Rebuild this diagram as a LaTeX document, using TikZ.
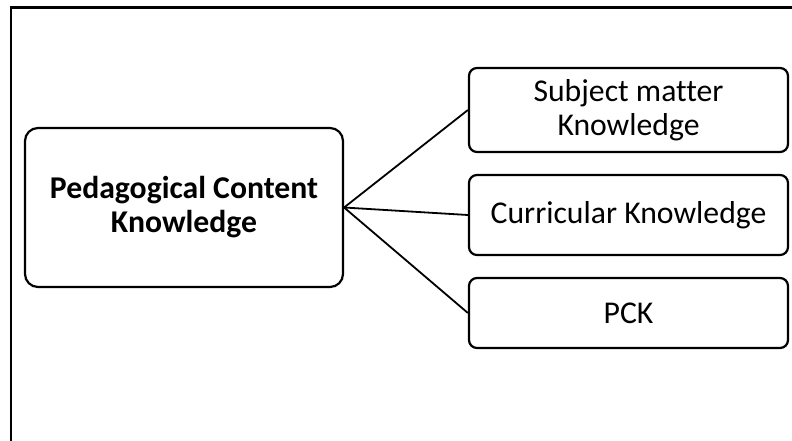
\documentclass[tikz,border=0pt]{standalone}
\usepackage{fontspec}
\setmainfont{Carlito}[Ligatures=CommonOff]
\begin{document}
\begin{tikzpicture}[x=1pt,y=-1pt,
  mainbox/.style={draw=black, line width=2.2pt, rounded corners=13pt, minimum width=318pt, minimum height=159pt, inner sep=0pt, align=center, font=\fontsize{31.7}{34}\selectfont\bfseries},
  subbox/.style={draw=black, line width=2.2pt, rounded corners=8pt, minimum width=319pt, inner sep=0pt, align=center, font=\fontsize{31.7}{34}\selectfont},
  link/.style={draw=black, line width=1.8pt}]
\useasboundingbox (0,0) rectangle (792,441);
\draw[line width=2.2pt] (11,441) -- (11,7.5) -- (792,7.5);
\node[mainbox] (pck) at (184,207.5) {Pedagogical Content\\Knowledge};
\node[subbox, minimum height=84pt] (smk) at (628.5,110) {Subject matter\\Knowledge};
\node[subbox, minimum height=80pt] (ck) at (628.5,215) {Curricular Knowledge};
\node[subbox, minimum height=70pt] (p) at (628.5,313) {PCK};
\draw[link] (pck.east) -- (smk.west);
\draw[link] (pck.east) -- (ck.west);
\draw[link] (pck.east) -- (p.west);
\end{tikzpicture}
\end{document}
